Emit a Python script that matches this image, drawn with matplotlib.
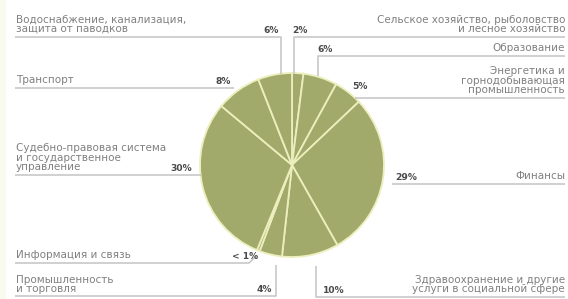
import matplotlib
matplotlib.use('Agg')
import matplotlib.pyplot as plt

# ── Data ──────────────────────────────────────────────────────────────────────
sectors = [
    'Сельское хозяйство, рыболовство\nи лесное хозяйство',
    'Образование',
    'Энергетика и\nгорнодобывающая\nпромышленность',
    'Финансы',
    'Здравоохранение и другие\nуслуги в социальной сфере',
    'Промышленность\nи торговля',
    'Информация и связь',
    'Судебно-правовая система\nи государственное\nуправление',
    'Транспорт',
    'Водоснабжение, канализация,\nзащита от паводков',
]
shares = [2, 6, 5, 29, 10, 4, 0.5, 30, 8, 6]
share_labels = ['2%', '6%', '5%', '29%', '10%', '4%', '< 1%', '30%', '8%', '6%']

PIE_COLOR = '#a2aa6b'
EDGE_COLOR = '#ecefbd'
LINE_COLOR = '#c4c4c4'
TEXT_COLOR = '#808080'
PCT_COLOR = '#4a4a4a'

plt.rcParams['font.family'] = ['DejaVu Sans']

fig = plt.figure(figsize=(5.68, 2.99), dpi=100)
ax = fig.add_axes([0, 0, 1, 1])

# faint tinted strip on the left edge
ax.axvspan(0, 5, color='#fafbef', zorder=0)

# y axis runs downward (pixel-like), so clockwise from 12 o'clock
# means startangle=-90 with counterclock=True
ax.pie(shares, startangle=-90, counterclock=True, center=(292, 165), radius=92,
       colors=[PIE_COLOR] * len(shares),
       wedgeprops=dict(edgecolor=EDGE_COLOR, linewidth=1.3), frame=True)
ax.set_xlim(0, 568)
ax.set_ylim(299, 0)
ax.set_aspect('equal')
ax.axis('off')

fs = 7.5

def line(xs, ys):
    ax.plot(xs, ys, color=LINE_COLOR, lw=1.1, solid_capstyle='butt', zorder=1)

def left_label(i, text_y, line_y, pct_x, path):
    ax.text(16, text_y, sectors[i], ha='left', va='bottom', fontsize=fs,
            color=TEXT_COLOR, linespacing=0.92)
    ax.text(pct_x, line_y - 2, share_labels[i], ha='right', va='bottom',
            fontsize=6.6, color=PCT_COLOR, fontweight='bold')
    line(*path)

def right_label(i, text_y, line_y, pct_x, path, pct_y=None):
    ax.text(565, text_y, sectors[i], ha='right', va='bottom', fontsize=fs,
            color=TEXT_COLOR, linespacing=0.92, multialignment='right')
    ax.text(pct_x, (line_y - 2) if pct_y is None else pct_y, share_labels[i],
            ha='left', va='bottom', fontsize=6.6, color=PCT_COLOR,
            fontweight='bold')
    line(*path)

# left side
left_label(9, 34, 37, 279, ([15, 281, 281], [37, 37, 74]))
left_label(8, 85, 88, 231, ([15, 234], [88, 88]))
left_label(7, 172, 175, 192, ([15, 201], [175, 175]))
left_label(6, 260, 263, 258, ([15, 249, 257], [263, 263, 255]))
left_label(5, 294, 296, 272, ([15, 276, 276], [296, 296, 265]))

# right side
right_label(0, 34, 37, 292, ([294, 294, 565], [74, 37, 37]))
right_label(1, 53, 56, 317, ([318, 318, 565], [76, 56, 56]))
right_label(2, 95, 98, 352, ([355, 565], [98, 98]), pct_y=91)
right_label(3, 181, 184, 395, ([392, 565], [184, 184]))
right_label(4, 294, 297, 323, ([316, 316, 565], [266, 297, 297]))

fig.savefig('out.png', dpi=100, facecolor='white')
